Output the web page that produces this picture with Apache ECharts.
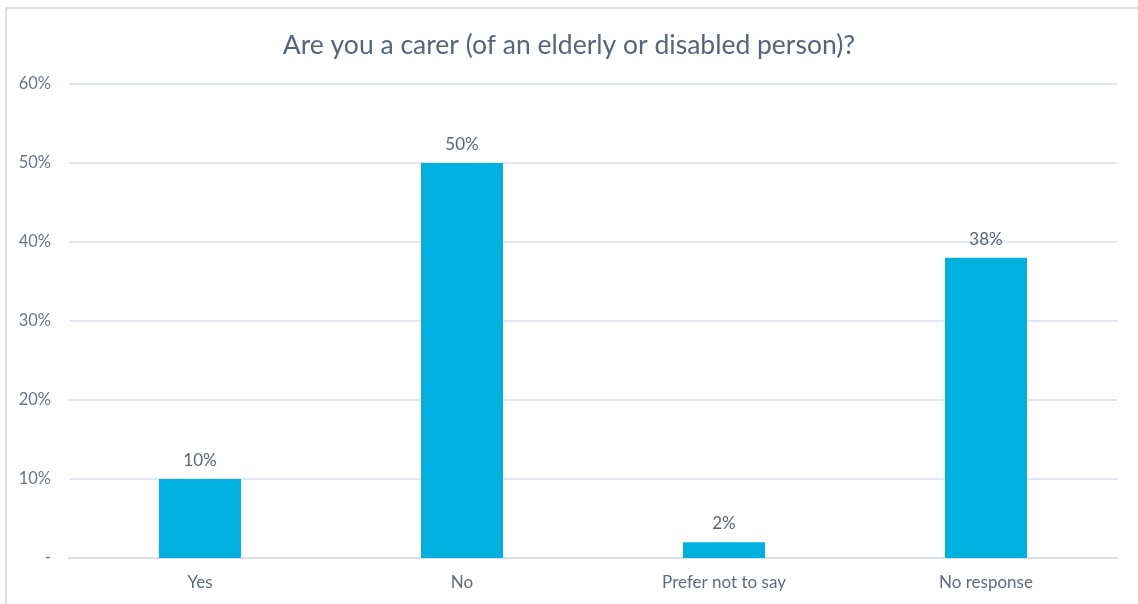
<!DOCTYPE html>
<html>
<head>
<meta charset="utf-8">
<script src="https://cdn.jsdelivr.net/npm/echarts@6/dist/echarts.min.js"></script>
<style>
  html, body { margin: 0; padding: 0; background: #fff; }
  #wrap { position: relative; width: 1138px; height: 604px; overflow: hidden; }
  #frame { position: absolute; left: 5px; top: 7px; width: 1200px; height: 700px;
           border-top: 2px solid #d9dee8; border-left: 2px solid #d9dee8; box-sizing: border-box; }
  #chart { position: absolute; left: 0; top: 0; width: 1138px; height: 604px; }
</style>
</head>
<body>
<div id="wrap">
  <div id="frame"></div>
  <div id="chart"></div>
</div>
<script>
// Survey responses, share of respondents (%)
const categories = ['Yes', 'No', 'Prefer not to say', 'No response'];
const shares = [10, 50, 2, 38];
const yTicks = [0, 10, 20, 30, 40, 50, 60];

const chart = echarts.init(document.getElementById('chart'), null, { renderer: 'canvas' });
chart.setOption({
  backgroundColor: 'transparent',
  animation: false,
  title: {
    text: 'Are you a carer (of an elderly or disabled person)?',
    left: 'center',
    top: 27,
    textStyle: { fontFamily: 'Lato', fontSize: 26.5, fontWeight: 'normal', color: '#56657c' }
  },
  grid: { left: 69, right: 21, top: 84, bottom: 46, containLabel: false },
  xAxis: {
    type: 'category',
    data: categories,
    axisLine: { show: true, lineStyle: { color: '#d9dee8', width: 2 } },
    axisTick: { show: false },
    axisLabel: { fontFamily: 'Lato', fontSize: 17, color: '#5f6b7e', margin: 16 }
  },
  yAxis: {
    type: 'value',
    min: yTicks[0],
    max: yTicks[yTicks.length - 1],
    interval: 10,
    axisLine: { show: false },
    axisTick: { show: false },
    splitLine: { lineStyle: { color: '#d9dee8', width: 1.5 } },
    axisLabel: {
      fontFamily: 'Lato', fontSize: 16.5, color: '#6b7689', margin: 18,
      formatter: v => v === 0 ? '-' : v + '%'
    }
  },
  series: [{
    type: 'bar',
    data: shares,
    barWidth: 82,
    itemStyle: { color: '#00b0df' },
    label: {
      show: true,
      position: 'top',
      distance: 10,
      fontFamily: 'Lato', fontSize: 17, color: '#5b6578',
      formatter: p => Math.round(p.value) + '%'
    }
  }]
});
</script>
</body>
</html>
